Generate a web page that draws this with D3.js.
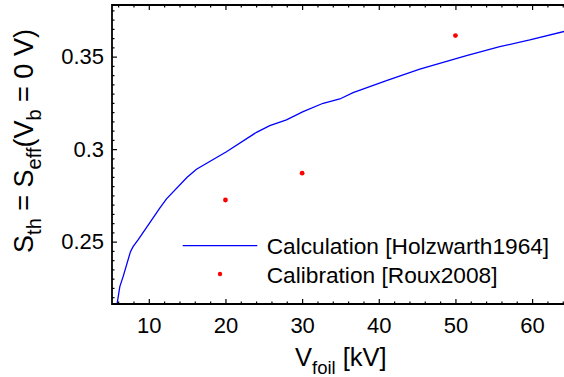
<!DOCTYPE html>
<html>
<head>
<meta charset="utf-8">
<script src="https://cdn.jsdelivr.net/npm/d3@7"></script>
<style>
  html, body { margin: 0; padding: 0; background: #fff; }
  svg { display: block; font-family: "Liberation Sans", Arial, Helvetica, sans-serif; }
</style>
</head>
<body>
<svg id="chart" width="564" height="377"></svg>
<script>
// Calculated threshold sensitivity (Holzwarth 1964 model)
const calcKv = [5.86, 6.22, 6.65, 7.61, 7.95, 8.60, 11.43, 12.31, 15.0, 16.22, 20.13, 24.05,
                25.78, 27.96, 30.13, 32.74, 34.92, 36.65, 41.0, 45.35, 51.44, 55.78, 59.7, 64.2, 66.0];
const calcS  = [0.2163, 0.2257, 0.2311, 0.2446, 0.2473, 0.2509, 0.2681, 0.2731, 0.2848, 0.2891, 0.2986, 0.3091,
                0.3127, 0.3158, 0.3203, 0.3248, 0.3271, 0.3305, 0.3370, 0.3432, 0.3505, 0.3554, 0.3590, 0.3636, 0.3653];

// Measured calibration points (Roux 2008)
const calibKv = [20, 30, 50];
const calibS  = [0.2725, 0.2870, 0.3614];

// Axis ticks
const xMajor = [10, 20, 30, 40, 50, 60];
const xTickLabels = ["10", "20", "30", "40", "50", "60"];
const xMinor = d3.range(6, 65, 2).filter(v => v % 10 !== 0);
const yMajor = [0.25, 0.30, 0.35];
const yTickLabels = ["0.25", "0.3", "0.35"];
const yMinor = d3.range(44, 76).map(v => v * 0.005).filter(v => Math.abs(v * 20 - Math.round(v * 20)) > 1e-6);

const legendLabels = ["Calculation [Holzwarth1964]", "Calibration [Roux2008]"];

const svg = d3.select("#chart");
const L = 112, T = 5, B = 304;

const x = d3.scaleLinear().domain([5.2, 65]).range([L, L + 59.8 * 7.666]);
const y = d3.scaleLinear().domain([0.2163, 0.3779]).range([B, T]);

svg.append("defs").append("clipPath").attr("id", "plotClip")
  .append("rect").attr("x", L).attr("y", T).attr("width", 600).attr("height", B - T);

// Curve
const line = d3.line().x((d, i) => x(calcKv[i])).y((d, i) => y(calcS[i]));
svg.append("path")
  .attr("clip-path", "url(#plotClip)")
  .attr("d", line(calcKv))
  .attr("fill", "none")
  .attr("stroke", "#0000ff")
  .attr("stroke-width", 1.3);

// Calibration points
svg.append("g").selectAll("circle")
  .data(calibKv)
  .join("circle")
  .attr("cx", (d) => x(d))
  .attr("cy", (d, i) => y(calibS[i]))
  .attr("r", 2.4)
  .attr("fill", "#ff0000");

// Axes
function styleAxis(g) {
  g.select(".domain").remove();
  g.selectAll("line").attr("stroke", "#000").attr("stroke-width", 1.2);
  g.selectAll("text").attr("fill", "#000").attr("font-size", 22);
}

// bottom
svg.append("g").attr("transform", `translate(0,${B})`)
  .call(d3.axisBottom(x).tickValues(xMajor).tickSizeInner(-5).tickSizeOuter(0).tickPadding(13)
    .tickFormat((d, i) => xTickLabels[i]))
  .call(styleAxis);
svg.append("g").attr("transform", `translate(0,${B})`)
  .call(d3.axisBottom(x).tickValues(xMinor).tickSizeInner(-2.5).tickSizeOuter(0).tickFormat(""))
  .call(styleAxis);
// top
svg.append("g").attr("transform", `translate(0,${T})`)
  .call(d3.axisTop(x).tickValues(xMajor).tickSizeInner(-5).tickSizeOuter(0).tickFormat(""))
  .call(styleAxis);
svg.append("g").attr("transform", `translate(0,${T})`)
  .call(d3.axisTop(x).tickValues(xMinor).tickSizeInner(-2.5).tickSizeOuter(0).tickFormat(""))
  .call(styleAxis);
// left
svg.append("g").attr("transform", `translate(${L},0)`)
  .call(d3.axisLeft(y).tickValues(yMajor).tickSizeInner(-5).tickSizeOuter(0).tickPadding(8)
    .tickFormat((d, i) => yTickLabels[i]))
  .call(styleAxis);
svg.append("g").attr("transform", `translate(${L},0)`)
  .call(d3.axisLeft(y).tickValues(yMinor).tickSizeInner(-2.5).tickSizeOuter(0).tickFormat(""))
  .call(styleAxis);

// Frame lines
svg.append("path")
  .attr("d", `M${x.range()[1]},${T}H${L}V${B}H${x.range()[1]}`)
  .attr("fill", "none").attr("stroke", "#000").attr("stroke-width", 1.8);

// X title
const xt = svg.append("text").attr("x", 295).attr("y", 366).attr("font-size", 25.5).attr("fill", "#000");
xt.append("tspan").text("V");
xt.append("tspan").attr("dy", 8).attr("font-size", 18.5).text("foil");
xt.append("tspan").attr("dy", -8).text(" [kV]");

// Y title
const yt = svg.append("text").attr("transform", "translate(33,141) rotate(-90)")
  .attr("text-anchor", "middle").attr("font-size", 27).attr("fill", "#000");
yt.append("tspan").text("S");
yt.append("tspan").attr("dy", 8).attr("font-size", 20).text("th");
yt.append("tspan").attr("dy", -8).text(" = S");
yt.append("tspan").attr("dy", 8).attr("font-size", 20).text("eff");
yt.append("tspan").attr("dy", -8).text("(V");
yt.append("tspan").attr("dy", 8).attr("font-size", 20).text("b");
yt.append("tspan").attr("dy", -8).text(" = 0 V)");

// Legend
const lg = svg.append("g");
lg.append("line").attr("x1", 182.7).attr("x2", 257.3).attr("y1", 245.7).attr("y2", 245.7)
  .attr("stroke", "#0000ff").attr("stroke-width", 1.3);
lg.append("circle").attr("cx", 220).attr("cy", 274).attr("r", 2.2).attr("fill", "#ff0000");
lg.selectAll("text").data(legendLabels).join("text")
  .attr("x", 266.7).attr("y", (d, i) => [254, 283.3][i])
  .attr("font-size", 22.7).attr("fill", "#000")
  .text(d => d);
</script>
</body>
</html>
